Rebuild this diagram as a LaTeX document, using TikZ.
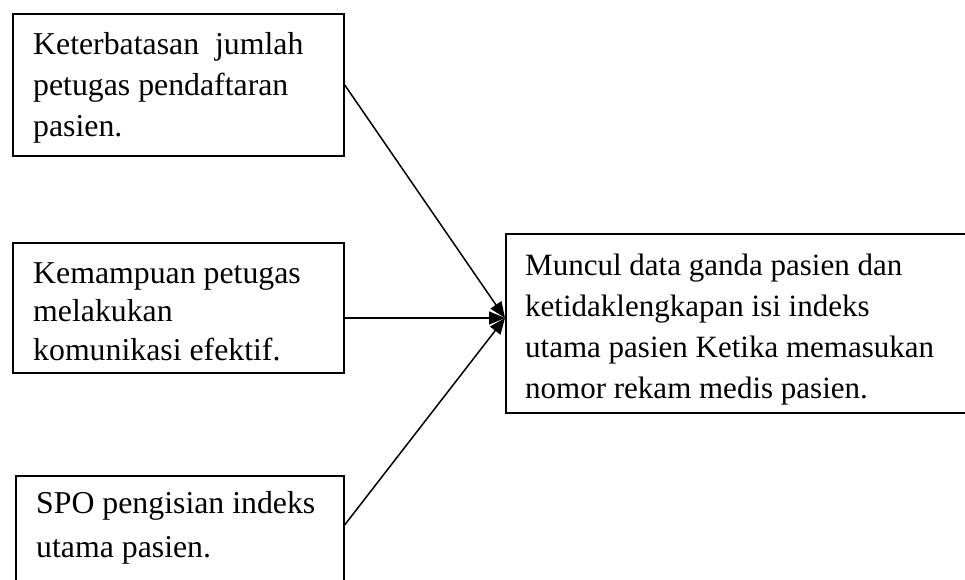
\documentclass[tikz,border=0pt]{standalone}
\usepackage{fontspec}
\setmainfont{Liberation Serif}
\usetikzlibrary{arrows.meta,calc}
\begin{document}
\begin{tikzpicture}[x=1pt,y=-1pt,
  boxshape/.style={draw=black,line width=1.6pt,rectangle,inner sep=0pt,anchor=north west},
  boxtext/.style={anchor=base west,inner sep=0pt,align=left,font=\fontsize{31.8}{41}\selectfont},
  conn/.style={line width=1.5pt,-{Triangle[length=16pt,width=13pt]}}]
\clip (0,0) rectangle (965,580);
\fill[white] (0,0) rectangle (965,580);
% boxes
\node[boxshape,minimum width=331pt,minimum height=142pt] (b1) at (12,13) {};
\node[boxshape,minimum width=331pt,minimum height=130pt] (b2) at (12,242) {};
\node[boxshape,minimum width=328pt,minimum height=130pt] (b3) at (15,475) {};
\node[boxshape,minimum width=480pt,minimum height=179pt] (b4) at (505,233) {};
% texts (base anchor = baseline of last line)
\node[boxtext] (t1) at (33,137) {Keterbatasan\ \ jumlah\\petugas pendaftaran\\pasien.};
\node[boxtext,font=\fontsize{31.8}{38.5}\selectfont] (t2) at (33,360) {Kemampuan petugas\\melakukan\\komunikasi efektif.};
\node[boxtext,font=\fontsize{31.8}{44}\selectfont] (t3) at (36,557) {SPO pengisian indeks\\utama pasien.};
\node[boxtext,font=\fontsize{31}{41}\selectfont] (t4) at (525,398) {Muncul data ganda pasien dan\\ketidaklengkapan isi indeks\\utama pasien Ketika memasukan\\nomor rekam medis pasien.};
% connectors
\coordinate (tip) at (505,318);
\coordinate (s3) at ($(b3.north east)+(0,50)$);
\draw[conn] (b1.east) -- (tip);
\draw[conn] (b2.east |- tip) -- (tip);
\draw[conn] (s3) -- (tip);
\end{tikzpicture}
\end{document}
